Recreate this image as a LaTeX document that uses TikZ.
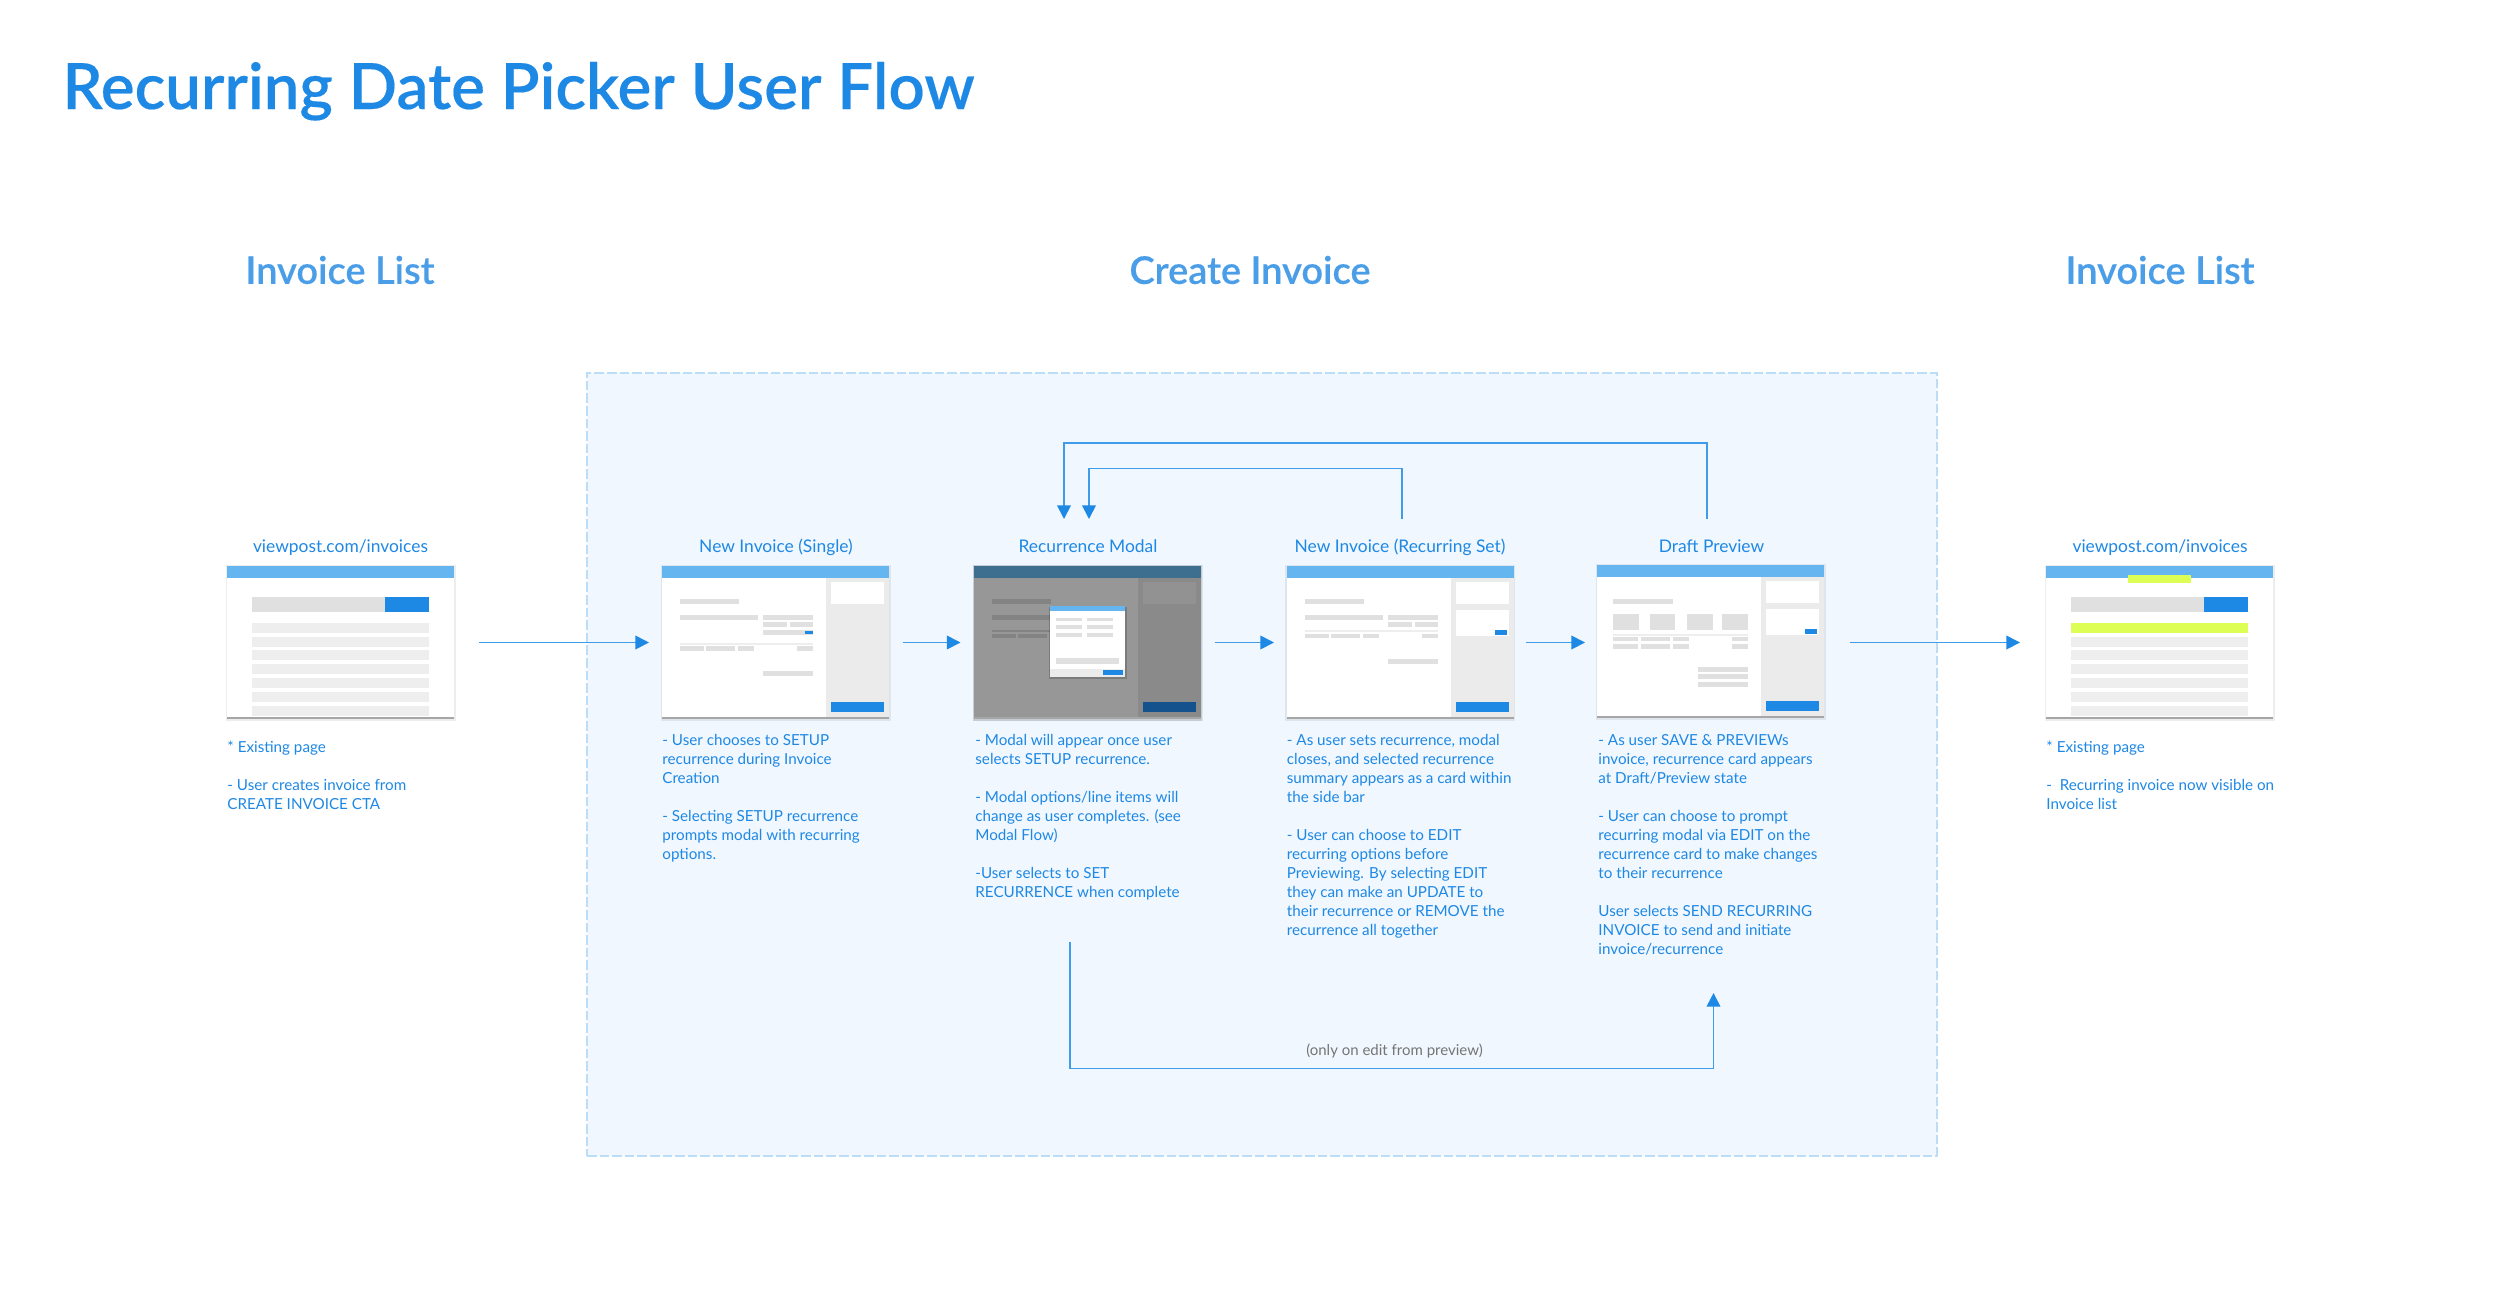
\documentclass[tikz,border=0pt]{standalone}
\usepackage{fontspec}
\setmainfont{Lato}
\newfontfamily\semif[FakeBold=0.25]{Lato Semibold}
\usetikzlibrary{arrows.meta}
\definecolor{titleblue}{HTML}{1E88E5}
\definecolor{headblue}{HTML}{4A9EE8}
\definecolor{lineblue}{HTML}{3F9CEA}
\definecolor{panelfill}{HTML}{F0F7FE}
\definecolor{paneldash}{HTML}{BBDDF7}
\definecolor{barhead}{HTML}{64B5F0}
\definecolor{rowl}{HTML}{EEEEEE}
\definecolor{rowm}{HTML}{E0E0E0}
\definecolor{sideg}{HTML}{EBEBEB}
\definecolor{lime}{HTML}{DDFF55}
\definecolor{notegray}{HTML}{757575}
\definecolor{dimbody}{HTML}{979797}
\definecolor{dimside}{HTML}{8A8A8A}
\definecolor{dimcard}{HTML}{929292}
\definecolor{dimrow}{HTML}{838383}
\definecolor{dimhead}{HTML}{3F6F8F}
\definecolor{dimbtn}{HTML}{13528C}
\tikzset{
  x=0.5pt,y=-0.5pt,
  flow/.style={draw=lineblue,line width=0.85pt,-{Triangle[length=6.8pt,width=6.8pt,color=titleblue]}},
  cardbox/.style={rectangle,inner sep=0pt,outer sep=0pt,minimum width=113.5pt,minimum height=75.6pt,anchor=north west,fill=white},
  caption/.style={inner sep=0pt,anchor=base,text=titleblue,font=\fontsize{8.7}{10}\selectfont},
  body/.style={inner sep=0pt,anchor=north west,align=left,text=titleblue,font=\fontsize{7.6}{9.5}\selectfont},
  section/.style={inner sep=0pt,text=headblue,font=\fontsize{19}{22}\semif},
}
\newcommand{\fl}{\rule{0pt}{6pt}}
\newcommand{\rc}[5]{\fill[#1] (#2,#3) rectangle (#4,#5);}
% card frame: name, x, y, header colour, body colour
\newcommand{\cardframe}[5]{%
  \fill[black,opacity=.07] (#2-1.5,#3-1) rectangle (#2+228.5,#3+154.5);
  \fill[black!35] (#2,#3+150) rectangle (#2+227,#3+153.2);
  \node[cardbox,fill=#5] (#1) at (#2,#3) {};
  \fill[#4] (#2,#3) rectangle (#2+227,#3+12.3);
}
\newcommand{\listrows}[1]{%
  \foreach \i in {#1}{\fill[rowl] (25,56.7+\i*13.87) rectangle (202,66.7+\i*13.87);}
  \fill[rowm] (25,31.3) rectangle (158,46.3);
  \fill[titleblue] (158,31.3) rectangle (202,46.3);
}
\newcommand{\sidebar}[3]{%
  \fill[#1] (164,12.3) rectangle (227,151);
  \fill[#2] (169,16.3) rectangle (222,38.3);
  \fill[#3] (169,136) rectangle (222,146.3);
}
\begin{document}
\begin{tikzpicture}
\useasboundingbox (0,0) rectangle (2500,1312);
\fill[white] (0,0) rectangle (2500,1312);
% panel
\node[inner sep=0pt,outer sep=0pt,minimum width=674.75pt,minimum height=391.5pt,anchor=north west,fill=panelfill,draw=paneldash,line width=1pt,dash pattern=on 4.8pt off 1.5pt] (panel) at (587,372.5) {};

\node[anchor=base west,inner sep=0pt,text=titleblue,font=\fontsize{31.85}{36}\semif] (title) at (62,109) {Recurring Date Picker User Flow};
\node[section] (secA) at (340,270) {Invoice List};
\node[section] (secB) at (1250,270) {Create Invoice};
\node[section] (secC) at (2160,270) {Invoice List};

% captions
\node[caption] (capA) at (340.5,552) {viewpost.com/invoices};
\node[caption] (capB) at (776,552) {New Invoice (Single)};
\node[caption] (capC) at (1088,552) {Recurrence Modal};
\node[caption] (capD) at (1400,552) {New Invoice (Recurring Set)};
\node[caption] (capE) at (1711.5,552) {Draft Preview};
\node[caption] (capF) at (2160,552) {viewpost.com/invoices};

% card 1
\cardframe{c1}{227}{566}{barhead}{white}
\begin{scope}[shift={(227,566)}]\listrows{0,...,6}\end{scope}
% card 2
\cardframe{c2}{662}{566}{barhead}{white}
\begin{scope}[shift={(662,566)}]
  \sidebar{sideg}{white}{titleblue}
  \rc{rowm}{18}{33.3}{77}{38.3}
  \rc{rowm}{18}{48.7}{96}{53.7}
  \rc{rowm}{101}{48.7}{151}{53.7}
  \rc{rowm}{101}{56}{125}{61}
  \rc{rowm}{128}{56}{151}{61}
  \rc{rowm}{101}{64}{151}{69}
  \rc{titleblue}{143}{65}{151}{67.7}
  \rc{rowl}{18}{77}{151}{78.7}
  \rc{rowm}{18}{80.3}{42}{85}
  \rc{rowm}{44}{80.3}{73}{85}
  \rc{rowm}{76}{80.3}{92}{85}
  \rc{rowm}{135}{80.3}{151}{85}
  \rc{rowm}{101}{105.3}{151}{110.3}
\end{scope}
% card 3 modal
\fill[black,opacity=.1] (973,565) rectangle (1202,720.5);
\cardframe{c3}{974}{566}{dimhead}{dimbody}
\begin{scope}[shift={(974,566)}]
  \sidebar{dimside}{dimcard}{dimbtn}
  \rc{dimrow}{18}{33.3}{77}{38.3}
  \rc{dimrow}{18}{48.7}{96}{53.7}
  \rc{dimrow}{18}{64}{76}{66}
  \rc{dimrow}{18}{67.7}{42}{72.3}
  \rc{dimrow}{44}{67.7}{73}{72.3}
  \fill[black,opacity=.18] (74.5,41) rectangle (152.5,113);
  \fill[white] (75.6,40) rectangle (151,110.7);
  \fill[barhead] (75.6,40) rectangle (151,45);
  \foreach \yy in {51.7,59.3,67}{
    \fill[rowm] (82,\yy) rectangle (108,\yy+3.7);
    \fill[rowm] (113,\yy) rectangle (139,\yy+3.7);
  }
  \rc{rowm}{82}{92}{145}{98.3}
  \rc{sideg}{75.6}{103}{151}{110.7}
  \rc{titleblue}{129}{104.3}{148.6}{109}
\end{scope}
% card 4
\cardframe{c4}{1286.5}{566}{barhead}{white}
\begin{scope}[shift={(1286.5,566)}]
  \sidebar{sideg}{white}{titleblue}
  \rc{white}{169}{43.7}{222}{70}
  \rc{titleblue}{208.5}{63.7}{220.5}{68.7}
  \rc{rowm}{18}{33.3}{77}{38.3}
  \rc{rowm}{18}{48.7}{96}{53.7}
  \rc{rowm}{101}{48.7}{151}{53.7}
  \rc{rowm}{101}{56.3}{125}{61}
  \rc{rowm}{128}{56.3}{151}{61}
  \rc{rowl}{18}{64}{151}{66}
  \rc{rowm}{18}{67.7}{42}{72.3}
  \rc{rowm}{44}{67.7}{73}{72.3}
  \rc{rowm}{76}{67.7}{92}{72.3}
  \rc{rowm}{135}{67.7}{151}{72.3}
  \rc{rowm}{101}{93}{151}{98}
\end{scope}
% card 5
\cardframe{c5}{1597}{565}{barhead}{white}
\begin{scope}[shift={(1597,565)}]
  \sidebar{sideg}{white}{titleblue}
  \rc{white}{169}{44}{222}{70}
  \rc{titleblue}{208}{64}{220}{68.7}
  \rc{rowm}{16}{34}{75.5}{38.7}
  \rc{rowm}{16}{49}{41.5}{65}
  \rc{rowm}{53}{49}{78}{65}
  \rc{rowm}{90}{49}{115.7}{65}
  \rc{rowm}{125}{49}{151}{65}
  \rc{rowl}{16}{69}{151}{71}
  \foreach \yy in {71.7,79}{
    \rc{rowm}{16}{\yy}{41}{\yy+4.7}
    \rc{rowm}{44}{\yy}{73}{\yy+4.7}
    \rc{rowm}{76}{\yy}{92}{\yy+4.7}
    \rc{rowm}{135}{\yy}{151}{\yy+4.7}
  }
  \rc{rowm}{101}{102}{151}{106.7}
  \rc{rowm}{101}{109.3}{151}{114}
  \rc{rowm}{101}{117}{151}{121.7}
\end{scope}
% card 6
\cardframe{c6}{2046}{566}{barhead}{white}
\begin{scope}[shift={(2046,566)}]
  \listrows{1,...,6}
  \rc{lime}{25}{56.7}{202}{66.7}
  \rc{lime}{82}{9.3}{145}{16.6}
\end{scope}

% body texts
\node[body] (txtA) at (227,740.5) {\fl* Existing page\\[9.5pt]- User creates invoice from\\CREATE INVOICE CTA};
\node[body] (txtB) at (662,733) {\fl- User chooses to SETUP\\recurrence during Invoice\\Creation\\[9.5pt]- Selecting SETUP recurrence\\prompts modal with recurring\\options.};
\node[body] (txtC) at (975,733) {\fl- Modal will appear once user\\selects SETUP recurrence.\\[9.5pt]- Modal options/line items will\\change as user completes. (see\\Modal Flow)\\[9.5pt]-User selects to SET\\RECURRENCE when complete};
\node[body] (txtD) at (1286.5,733) {\fl- As user sets recurrence, modal\\closes, and selected recurrence\\summary appears as a card within\\the side bar\\[9.5pt]- User can choose to EDIT\\recurring options before\\Previewing. By selecting EDIT\\they can make an UPDATE to\\their recurrence or REMOVE the\\recurrence all together};
\node[body] (txtE) at (1598,733) {\fl- As user SAVE \& PREVIEWs\\invoice, recurrence card appears\\at Draft/Preview state\\[9.5pt]- User can choose to prompt\\recurring modal via EDIT on the\\recurrence card to make changes\\to their recurrence\\[9.5pt]User selects SEND RECURRING\\INVOICE to send and initiate\\invoice/recurrence};
\node[body] (txtF) at (2046,740.5) {\fl* Existing page\\[9.5pt]-\ \ Recurring invoice now visible on\\Invoice list};
\node[inner sep=0pt,text=notegray,font=\fontsize{7.5}{9.5}\selectfont] (note) at (1394.5,1051) {(only on edit from preview)};

% straight arrows
\coordinate (a1s) at (479,642.5);  \coordinate (a1e) at (649,642.5);
\coordinate (a2s) at (902.5,642.5);\coordinate (a2e) at (960.5,642.5);
\coordinate (a3s) at (1214.5,642.5);\coordinate (a3e) at (1274,642.5);
\coordinate (a4s) at (1525.5,642.5);\coordinate (a4e) at (1585,642.5);
\coordinate (a5s) at (1850,642.5);\coordinate (a5e) at (2020,642.5);
\foreach \k in {1,...,5}{\draw[flow] (a\k s) -- (a\k e);}
% loops
\coordinate (l1s) at (1707,519);\coordinate (l1a) at (1707,443);\coordinate (l1b) at (1064,443);\coordinate (l1e) at (1064,519);
\coordinate (l2s) at (1402,519);\coordinate (l2a) at (1402,468.5);\coordinate (l2b) at (1089,468.5);\coordinate (l2e) at (1089,519);
\coordinate (l3s) at (1070,942);\coordinate (l3a) at (1070,1068.5);\coordinate (l3b) at (1713.5,1068.5);\coordinate (l3e) at (1713.5,993);
\draw[flow] (l1s) -- (l1a) -- (l1b) -- (l1e);
\draw[flow] (l2s) -- (l2a) -- (l2b) -- (l2e);
\draw[flow] (l3s) -- (l3a) -- (l3b) -- (l3e);
\end{tikzpicture}
\end{document}
